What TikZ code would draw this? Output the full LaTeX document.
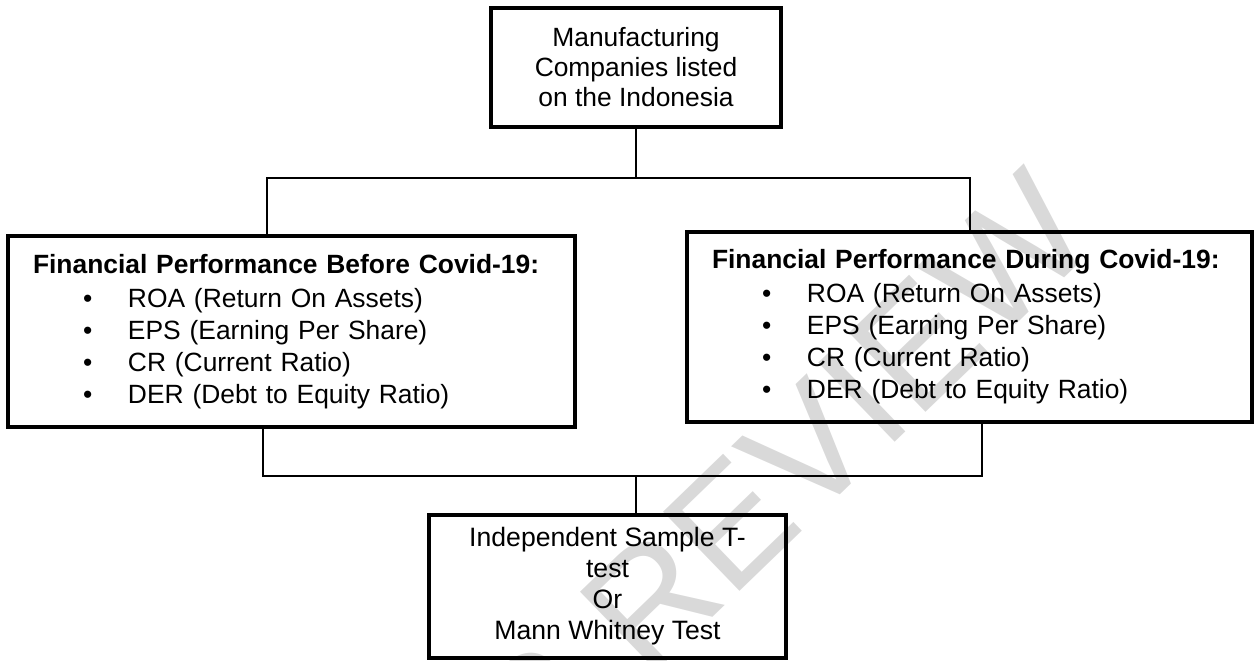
\documentclass[tikz,border=0pt]{standalone}
\usepackage{fontspec}
\setmainfont{Liberation Sans}
\usepackage{tikz}

\newcommand{\perfitem}[1]{\\\hspace*{25pt}\makebox[22.5pt][l]{\textbullet}#1}

\begin{document}
\begin{tikzpicture}[x=0.5pt,y=-0.5pt,
 	box/.style={draw=black, line width=2.2pt, inner sep=0pt, align=center,
 	            font=\fontsize{13.2}{15}\selectfont},
 	perfbox/.style={box, align=left, font=\fontsize{13.2}{16}\selectfont},
 	link/.style={draw=black, line width=0.8pt}]
 	\useasboundingbox (0,0) rectangle (1254,660);
 	% watermark behind everything
 	\node[text=black!15, font=\fontsize{80}{80}\selectfont, rotate=44,
 	      anchor=base east, inner sep=0pt] (mark) at (1102,242) {PEER REVIEW};
 	% boxes
 	\node[box, minimum width=145pt, minimum height=59.5pt] (firms) at (636,67.5)
 	 	{Manufacturing\\Companies listed\\on the Indonesia};
 	\node[perfbox, minimum width=283.5pt, minimum height=95.5pt, text width=258.5pt] (before) at (291.5,331.5)
 	 	{\textbf{Financial Performance Before Covid-19:}\\[1pt]
 	 	 \hspace*{25pt}\makebox[22.5pt][l]{\textbullet}ROA (Return On Assets)%
 	 	 \perfitem{EPS (Earning Per Share)}%
 	 	 \perfitem{CR (Current Ratio)}%
 	 	 \perfitem{DER (Debt to Equity Ratio)}};
 	\node[perfbox, minimum width=282.5pt, minimum height=95pt, text width=257.5pt] (during) at (969.5,327)
 	 	{\textbf{Financial Performance During Covid-19:}\\[1pt]
 	 	 \hspace*{25pt}\makebox[22.5pt][l]{\textbullet}ROA (Return On Assets)%
 	 	 \perfitem{EPS (Earning Per Share)}%
 	 	 \perfitem{CR (Current Ratio)}%
 	 	 \perfitem{DER (Debt to Equity Ratio)}};
 	\node[box, minimum width=178.5pt, minimum height=71.5pt, font=\fontsize{13.3}{15.5}\selectfont] (result) at (607.5,586.5)
 	 	{Independent Sample T-\\test\\Or\\Mann Whitney Test};
 	% upper fork
 	\coordinate (upL) at (267,178);
 	\coordinate (upR) at (970,178);
 	\draw[link] (firms.south) -- (firms.south |- upL);
 	\draw[link] (upL |- before.north) -- (upL) -- (upR) -- (upR |- during.north);
 	% lower join
 	\coordinate (lowL) at (263,476);
 	\coordinate (lowR) at (982,476);
 	\coordinate (lowM) at (636,476);
 	\draw[link] (lowL |- before.south) -- (lowL) -- (lowR) -- (lowR |- during.south);
 	\draw[link] (lowM) -- (lowM |- result.north);
\end{tikzpicture}
\end{document}
